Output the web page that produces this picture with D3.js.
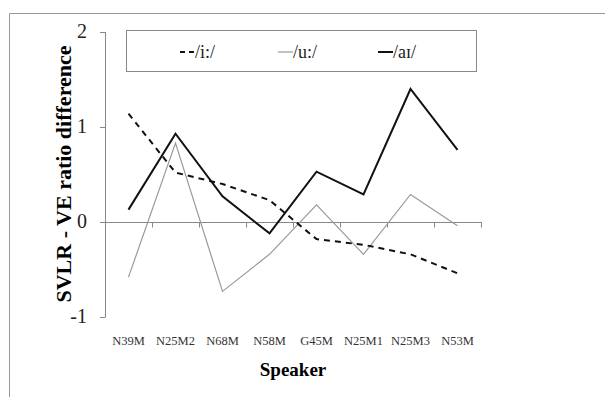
<!DOCTYPE html>
<meta charset="utf-8">
<html>
<head>
<style>
  body { margin: 0; background: #fff; }
</style>
</head>
<body>
<div id="chart"></div>
<script src="https://d3js.org/d3.v7.min.js"></script>
<script>

// data
var speakers = ["N39M", "N25M2", "N68M", "N58M", "G45M", "N25M1", "N25M3", "N53M"];
var iVals  = [1.14, 0.52, 0.40, 0.23, -0.18, -0.24, -0.34, -0.54];
var uVals  = [-0.58, 0.83, -0.73, -0.34, 0.18, -0.34, 0.29, -0.04];
var aiVals = [0.13, 0.93, 0.27, -0.12, 0.53, 0.29, 1.40, 0.76];
var yTicks = [-1, 0, 1, 2];
var seriesNames = ["/i:/", "/u:/", "/a\u026A/"];

var serif = "'Times New Roman', 'Liberation Serif', 'DejaVu Serif', serif";
var width = 605, height = 397;
var svg = d3.select("#chart").append("svg")
    .attr("width", width)
    .attr("height", height)
    .style("font-family", serif);

// outer chart frame (right and bottom run off the picture)
svg.append("path")
    .attr("d", "M9.5," + height + "V13.5H" + width)
    .style("fill", "none")
    .style("stroke", "#999")
    .style("stroke-width", 1);

var x = d3.scaleBand().domain(speakers).range([105, 481]);
var y = d3.scaleLinear().domain([-1, 2]).range([317, 32]);

// y axis
svg.append("line")
    .attr("x1", 105.5).attr("x2", 105.5)
    .attr("y1", y(2)).attr("y2", y(-1))
    .style("stroke", "#888");
svg.selectAll(".ytick").data(yTicks).enter().append("line")
    .attr("x1", 100).attr("x2", 105.5)
    .attr("y1", function(d) { return Math.round(y(d)) + 0.5; })
    .attr("y2", function(d) { return Math.round(y(d)) + 0.5; })
    .style("stroke", "#888");
svg.selectAll(".ylab").data(yTicks).enter().append("text")
    .attr("x", 87)
    .attr("y", function(d) { return y(d) + 6; })
    .attr("text-anchor", "end")
    .style("font-size", "20px")
    .style("fill", "#222")
    .text(function(d) { return d; });

// x axis sits at zero
var y0 = Math.round(y(0)) + 0.5;
svg.append("line")
    .attr("x1", 105).attr("x2", 482)
    .attr("y1", y0).attr("y2", y0)
    .style("stroke", "#888");
svg.selectAll(".xtick").data(speakers).enter().append("line")
    .attr("x1", function(d) { return Math.round(x(d) + x.bandwidth()) + 0.5; })
    .attr("x2", function(d) { return Math.round(x(d) + x.bandwidth()) + 0.5; })
    .attr("y1", y0).attr("y2", y0 + 5)
    .style("stroke", "#888");
svg.selectAll(".xlab").data(speakers).enter().append("text")
    .attr("x", function(d) { return x(d) + x.bandwidth() / 2; })
    .attr("y", 345)
    .attr("text-anchor", "middle")
    .style("font-size", "12.5px")
    .style("fill", "#333")
    .text(function(d) { return d; });

// axis titles
svg.append("text")
    .attr("x", 293).attr("y", 376)
    .attr("text-anchor", "middle")
    .style("font-size", "19px")
    .style("font-weight", "bold")
    .text("Speaker");
svg.append("text")
    .attr("transform", "translate(71,174) rotate(-90)")
    .attr("text-anchor", "middle")
    .style("font-size", "22px")
    .style("font-weight", "bold")
    .text("SVLR - VE ratio difference");

// lines
var line = d3.line()
    .x(function(d, i) { return x(speakers[i]) + x.bandwidth() / 2; })
    .y(function(d) { return y(d); });

var styles = [
  {data: uVals, stroke: "#999", w: 1.2, dash: null},
  {data: iVals, stroke: "#111", w: 2, dash: "6,5"},
  {data: aiVals, stroke: "#111", w: 2, dash: null}
];
styles.forEach(function(s) {
  svg.append("path")
      .attr("d", line(s.data))
      .style("fill", "none")
      .style("stroke", s.stroke)
      .style("stroke-width", s.w)
      .style("stroke-dasharray", s.dash)
      .style("stroke-linejoin", "miter");
});

// legend
var legend = svg.append("g");
legend.append("rect")
    .attr("x", 126.5).attr("y", 30.5)
    .attr("width", 350).attr("height", 41)
    .style("fill", "#fff")
    .style("stroke", "#888");

var legItems = [
  {name: seriesNames[0], x: 180, stroke: "#111", w: 2, dash: "5,4"},
  {name: seriesNames[1], x: 278, stroke: "#999", w: 1.2, dash: null},
  {name: seriesNames[2], x: 378, stroke: "#111", w: 2, dash: null}
];
legItems.forEach(function(d) {
  legend.append("line")
      .attr("x1", d.x).attr("x2", d.x + 15)
      .attr("y1", 52).attr("y2", 52)
      .style("stroke", d.stroke)
      .style("stroke-width", d.w)
      .style("stroke-dasharray", d.dash);
  legend.append("text")
      .attr("x", d.x + 15).attr("y", 58)
      .style("font-size", "18px")
      .style("fill", "#222")
      .text(d.name);
});

</script>
</body>
</html>
